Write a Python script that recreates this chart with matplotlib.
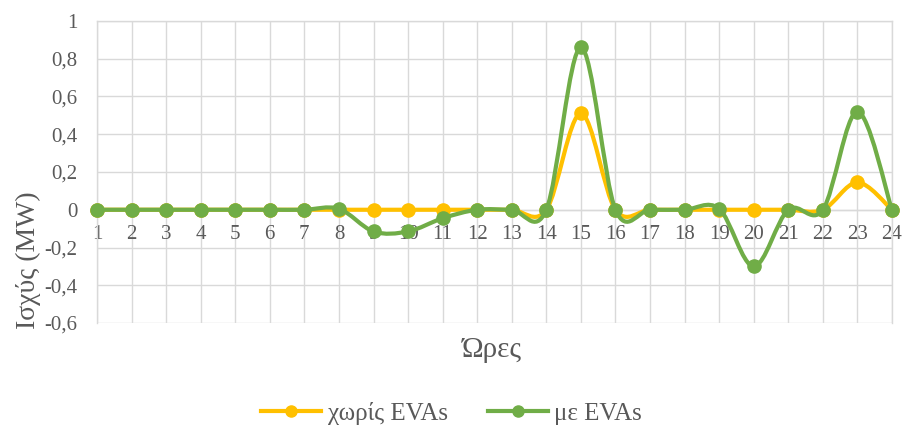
import numpy as np
import matplotlib.pyplot as plt
from matplotlib.path import Path
from matplotlib.patches import PathPatch
from matplotlib.lines import Line2D
from matplotlib.ticker import FuncFormatter

plt.rcParams['font.family'] = ['Liberation Serif', 'DejaVu Serif']

hours = list(range(1, 25))
without_eva = [0, 0, 0, 0, 0, 0, 0, 0, 0, 0, 0, 0, 0, 0, 0.51, 0, 0, 0, 0, 0, 0, 0, 0.145, 0]
with_eva = [0, 0, 0, 0, 0, 0, 0, 0.005, -0.115, -0.115, -0.045, 0, 0, 0, 0.86, 0, 0, 0, 0.005, -0.30, 0, 0, 0.52, 0]
series_names = ["χωρίς EVAs", "με EVAs"]
colors = ["#FFC000", "#70AD47"]
grey_text = "#595959"
grid_col = "#D9D9D9"


def smooth_path(x, y):
    # Excel-like smoothed line: Catmull-Rom as cubic Bezier segments
    pts = np.column_stack([x, y]).astype(float)
    n = len(pts)
    verts = [pts[0]]
    codes = [Path.MOVETO]
    for i in range(n - 1):
        p0 = pts[max(i - 1, 0)]
        p1 = pts[i]
        p2 = pts[i + 1]
        p3 = pts[min(i + 2, n - 1)]
        c1 = p1 + (p2 - p0) / 6
        c2 = p2 - (p3 - p1) / 6
        verts += [c1, c2, p2]
        codes += [Path.CURVE4] * 3
    return Path(verts, codes)


fig = plt.figure(figsize=(9.03, 4.32), dpi=100)
ax = fig.add_axes([0.1074, 0.2523, 0.8804, 0.6991])

for vals, col, z in zip([without_eva, with_eva], colors, [3, 5]):
    ax.add_patch(PathPatch(smooth_path(hours, vals), facecolor="none",
                           edgecolor=col, lw=3, capstyle="round",
                           joinstyle="round", zorder=z))
    ax.plot(hours, vals, linestyle="none", marker="o", markersize=9.5,
            color=col, zorder=z + 1, clip_on=False)

ax.set_xlim(1, 24)
ax.set_ylim(-0.6, 1)
ax.set_xticks(hours)
ax.set_yticks(np.arange(-0.6, 1.01, 0.2))
ax.yaxis.set_major_formatter(FuncFormatter(
    lambda v, p: "0" if abs(v) < 1e-9 else ("%g" % round(v, 1)).replace(".", ",")))
ax.grid(True, color=grid_col, lw=1)
ax.set_axisbelow(True)

ax.spines['bottom'].set_position(('data', 0))
for s in ax.spines.values():
    s.set_color(grid_col)
    s.set_linewidth(1)

ax.tick_params(axis="both", length=0, labelsize=15, labelcolor=grey_text)
ax.tick_params(axis="x", pad=11)
ax.tick_params(axis="y", pad=14)

fig.text(0.031, 0.398, "Ισχύς (MW)", rotation=90, ha="center", va="center",
         fontsize=20, color=grey_text)
fig.text(0.545, 0.19, "Ώρες", ha="center", va="center",
         fontsize=21, color=grey_text)

handles = [Line2D([], [], color=c, lw=3, marker="o", markersize=8)
           for c in colors]
fig.legend(handles, series_names, loc="center", bbox_to_anchor=(0.5, 0.043),
           ncol=2, frameon=False, fontsize=18, handlelength=2.4,
           handletextpad=0.25, columnspacing=1.6, labelcolor=grey_text)

fig.savefig("out.png", dpi=100)
